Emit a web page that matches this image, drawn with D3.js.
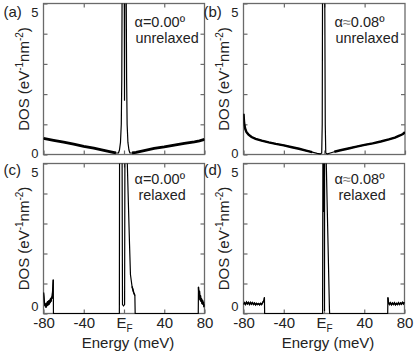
<!DOCTYPE html>
<html>
<head>
<meta charset="utf-8">
<script src="https://cdn.jsdelivr.net/npm/d3@7"></script>
<style>
  body { margin: 0; background: #fff; }
  svg { display: block; font-family: "Liberation Sans", Arial, sans-serif; }
</style>
</head>
<body>
<div class="dos-figure"></div>
<script>
//Tick values and labels.
var energyTicks = [-80, -40, 0, 40, 80];
var energyTickLabels = ["-80", "-40", "E_F", "40", "80"];
var dosTicks = [0, 1, 2, 3, 4, 5];
var dosTickLabels = ["0", "", "", "", "", "5"];

//Panel texts.
var panelTags = ["(a)", "(b)", "(c)", "(d)"];
var twistLabels = ["α=0.00º", "α≈0.08º", "α=0.00º", "α≈0.08º"];
var relaxLabels = ["unrelaxed", "unrelaxed", "relaxed", "relaxed"];

//DOS curves, [energy (meV), DOS].
var dosA = [[-80,0.53],[-75,0.5],[-70,0.47],[-60,0.41],[-50,0.34],[-40,0.27],[-30,0.21],[-20,0.14],[-12,0.08],
  [-8,0.05],[-5.5,0.05],[-4.5,0.15],[-3.5,0.4],[-2.7,1],[-2.2,2.5],[-1.9,6],[-0.5,14],[0.3,6],[0.5,1.8],[0.7,6],
  [1.2,14],[2.2,6],[2.6,2.5],[3.1,1],[3.9,0.4],[4.9,0.15],[5.9,0.05],[8,0.05],[12,0.07],[20,0.13],[30,0.2],
  [40,0.25],[50,0.31],[60,0.37],[70,0.42],[75,0.45],[80,0.5]];
var dosB = [[-80,1.35],[-79.5,1.1],[-79,0.95],[-78,0.82],[-77,0.74],[-75,0.66],[-72,0.58],[-68,0.52],[-62,0.46],
  [-55,0.4],[-48,0.35],[-40,0.3],[-32,0.24],[-25,0.19],[-18,0.13],[-12,0.08],[-7,0.04],[-4,0.02],[-2.5,0.05],
  [-2,1],[-1.7,8],[-0.5,14],[0.5,8],[1,1],[1.5,0.05],[3,0.02],[6,0.05],[10,0.09],[16,0.14],[24,0.2],[32,0.26],
  [40,0.32],[48,0.37],[56,0.43],[64,0.5],[70,0.56],[75,0.63],[78,0.68],[80,0.74]];
var dosC = [[-80,0.7],[-79.5,0.5],[-79,0.35],[-78.5,0.25],[-78,0.32],[-77.5,0.2],[-77,0.35],[-76.5,0.25],[-76,0.4],
  [-75.5,0.28],[-75,0.42],[-74.5,0.3],[-74,0.45],[-73.5,0.35],[-73,0.5],[-72.5,0.4],[-72,0.55],[-71.5,0.5],
  [-71,0.7],[-70.6,0.9],[-70.3,1.12],[-70.1,0],[-4.6,0],[-4.4,8],[-3,14],[-1.9,6],[-1.5,0.3],[-0.5,0.25],
  [0.6,0.3],[0.9,6],[2,14],[3.2,5.1],[4.5,3.5],[5.5,2.3],[6.4,1.3],[8,0.9],[9.6,0.7],[10.8,0.6],[11.1,0],
  [73.8,0],[74,0.88],[74.5,0.6],[75,0.75],[75.5,0.45],[76,0.6],[76.5,0.4],[77,0.5],[77.5,0.33],[78,0.45],
  [78.5,0.3],[79,0.38],[79.5,0.22],[80,0.3]];
var dosD = [[-80,0.3],[-79,0.36],[-78,0.3],[-77,0.38],[-76,0.32],[-75,0.37],[-74,0.3],[-73,0.37],[-72,0.31],
  [-71,0.36],[-70,0.3],[-69,0.35],[-68,0.29],[-67,0.34],[-66,0.3],[-65,0.33],[-64,0.29],[-63,0.34],[-62,0.3],
  [-61,0.36],[-59.5,0.45],[-59.2,0.53],[-59,0],[-1.4,0],[-1.1,8],[-0.6,14],[-0.2,3.4],[0.1,12],[0.4,6],
  [0.5,0.1],[0.6,6],[1.2,14],[2.2,5.1],[3.3,3.4],[4.4,1.7],[5.4,0.15],[5.6,0],[63.3,0],[63.5,0.53],[64,0.38],
  [65,0.3],[66,0.36],[67,0.29],[68,0.35],[69,0.3],[70,0.36],[71,0.29],[72,0.34],[73,0.3],[74,0.36],[75,0.3],
  [76,0.35],[77,0.31],[78,0.37],[79,0.32],[80,0.38]];

var series = [dosA, dosB, dosC, dosD];

//Define the SVG area dimensions.
var svgWidth = 415;
var svgHeight = 352;

//Plot boxes of the four panels.
var boxes = [
  { x0: 43.5, x1: 204.5, y0: 3.5, y1: 154.5, band: 2.8 },
  { x0: 243.5, x1: 405, y0: 3.5, y1: 154.5, band: 2.4 },
  { x0: 43.5, x1: 204.5, y0: 163.5, y1: 313.5, band: 1.4 },
  { x0: 243.5, x1: 404.5, y0: 163.5, y1: 313.5, band: 1.4 }
];

var frameColor = "#6a6a6a";
var textColor = "#222";

var svg = d3.select(".dos-figure")
  .append("svg")
  .attr("width", svgWidth)
  .attr("height", svgHeight);

var defs = svg.append("defs");

boxes.forEach(function(box, i) {
  var bottomRow = i >= 2;

  //Create the scale functions.
  var x = d3.scaleLinear().domain([-80, 80]).range([box.x0, box.x1]);
  var y = d3.scaleLinear().domain([0, 5]).range([box.y1, box.y0]);

  //Clip the curve to the plot box.
  defs.append("clipPath")
    .attr("id", "clip" + i)
    .append("rect")
    .attr("x", box.x0)
    .attr("y", box.y0)
    .attr("width", box.x1 - box.x0)
    .attr("height", box.y1 - box.y0 + 1);

  var panel = svg.append("g");

  //Frame.
  panel.append("rect")
    .attr("x", box.x0)
    .attr("y", box.y0)
    .attr("width", box.x1 - box.x0)
    .attr("height", box.y1 - box.y0)
    .attr("fill", "none")
    .attr("stroke", frameColor)
    .attr("stroke-width", 1.3);

  //Inner tick marks on all four sides.
  var bottomAxis = d3.axisBottom(x)
    .tickValues(energyTicks)
    .tickSizeInner(-4)
    .tickSizeOuter(0)
    .tickPadding(4)
    .tickFormat(function(d, k) { return bottomRow ? energyTickLabels[k] : ""; });
  var topAxis = d3.axisTop(x).tickValues(energyTicks.slice(1, 4)).tickSizeInner(-4).tickSizeOuter(0).tickFormat("");
  var leftAxis = d3.axisLeft(y)
    .tickValues(dosTicks)
    .tickSizeInner(-4)
    .tickSizeOuter(0)
    .tickPadding(5)
    .tickFormat(function(d, k) { return dosTickLabels[k]; });
  var rightAxis = d3.axisRight(y).tickValues(dosTicks.slice(1, 5)).tickSizeInner(-4).tickSizeOuter(0).tickFormat("");

  var gb = panel.append("g").attr("transform", "translate(0," + box.y1 + ")").call(bottomAxis);
  var gt = panel.append("g").attr("transform", "translate(0," + box.y0 + ")").call(topAxis);
  var gl = panel.append("g").attr("transform", "translate(" + box.x0 + ",0)").call(leftAxis);
  var gr = panel.append("g").attr("transform", "translate(" + box.x1 + ",0)").call(rightAxis);

  [gb, gt, gl, gr].forEach(function(g) {
    g.select(".domain").remove();
    g.selectAll(".tick line").attr("stroke", frameColor).attr("stroke-width", 1.2);
    g.selectAll("text").attr("fill", textColor).attr("font-family", null);
  });

  gb.selectAll("text").attr("font-size", 15);
  //Fermi level label with subscript.
  gb.selectAll("text").filter(function(d) { return d === 0; })
    .each(function() {
      var t = d3.select(this);
      if (t.text() !== "E_F") return;
      t.text("");
      t.append("tspan").text("E");
      t.append("tspan").attr("font-size", 10).attr("dy", "0.35em").text("F");
    });

  gl.selectAll("text").attr("font-size", 13);
  gl.selectAll("text").filter(function(d) { return d === 5; }).attr("dy", "1em");
  gl.selectAll("text").filter(function(d) { return d === 0; }).attr("dy", bottomRow ? "-0.2em" : "0.2em");

  //Curve: thin line everywhere plus a thicker trace for the noisy parts.
  var line = d3.line()
    .x(function(d) { return x(d[0]); })
    .y(function(d) { return y(Math.min(d[1], 5.3)); });
  var bandLine = d3.line()
    .defined(function(d) { return Math.abs(d[0]) > 7 && d[1] > 0; })
    .x(function(d) { return x(d[0]); })
    .y(function(d) { return y(d[1]); });

  var curve = panel.append("g").attr("clip-path", "url(#clip" + i + ")");
  curve.append("path")
    .datum(series[i])
    .attr("d", line)
    .attr("fill", "none")
    .attr("stroke", "#000")
    .attr("stroke-width", 1.2)
    .attr("stroke-linejoin", "round");
  curve.append("path")
    .datum(series[i])
    .attr("d", bandLine)
    .attr("fill", "none")
    .attr("stroke", "#000")
    .attr("stroke-width", box.band);

  //Panel tag.
  panel.append("text")
    .attr("x", box.x0 - 40)
    .attr("y", box.y0 + (bottomRow ? 11 : 13))
    .attr("font-size", 15)
    .attr("fill", textColor)
    .text(panelTags[i]);

  //Twist angle and relaxation labels.
  var tw = panel.append("text")
    .attr("x", box.x0 + 91)
    .attr("y", box.y0 + (bottomRow ? 20 : 23))
    .attr("font-size", 14.5)
    .attr("fill", textColor);
  twistLabels[i].split("").forEach(function(c) {
    tw.append("tspan").attr("fill", c === "≈" ? "#777" : null).text(c);
  });
  panel.append("text")
    .attr("x", box.x0 + 92 + (bottomRow ? 3 : 0))
    .attr("y", box.y0 + (bottomRow ? 36 : 39))
    .attr("font-size", 14.4)
    .attr("fill", textColor)
    .text(relaxLabels[i]);

  //Append the y-axis label.
  var yl = panel.append("text")
    .attr("transform", "translate(" + (box.x0 - 14.5) + "," + ((box.y0 + box.y1) / 2) + ") rotate(-90)")
    .attr("text-anchor", "middle")
    .attr("font-size", 15)
    .attr("fill", textColor);
  yl.append("tspan").text("DOS (eV");
  yl.append("tspan").attr("font-size", 10).attr("dy", -6).text("-1");
  yl.append("tspan").attr("dy", 6).text("nm");
  yl.append("tspan").attr("font-size", 10).attr("dy", -6).text("-2");
  yl.append("tspan").attr("dy", 6).text(")");

  //Append the x-axis label.
  if (bottomRow) {
    panel.append("text")
      .attr("x", (box.x0 + box.x1) / 2 + 4)
      .attr("y", 348)
      .attr("text-anchor", "middle")
      .attr("font-size", 15)
      .attr("fill", textColor)
      .text("Energy (meV)");
  }
});
</script>
</body>
</html>
